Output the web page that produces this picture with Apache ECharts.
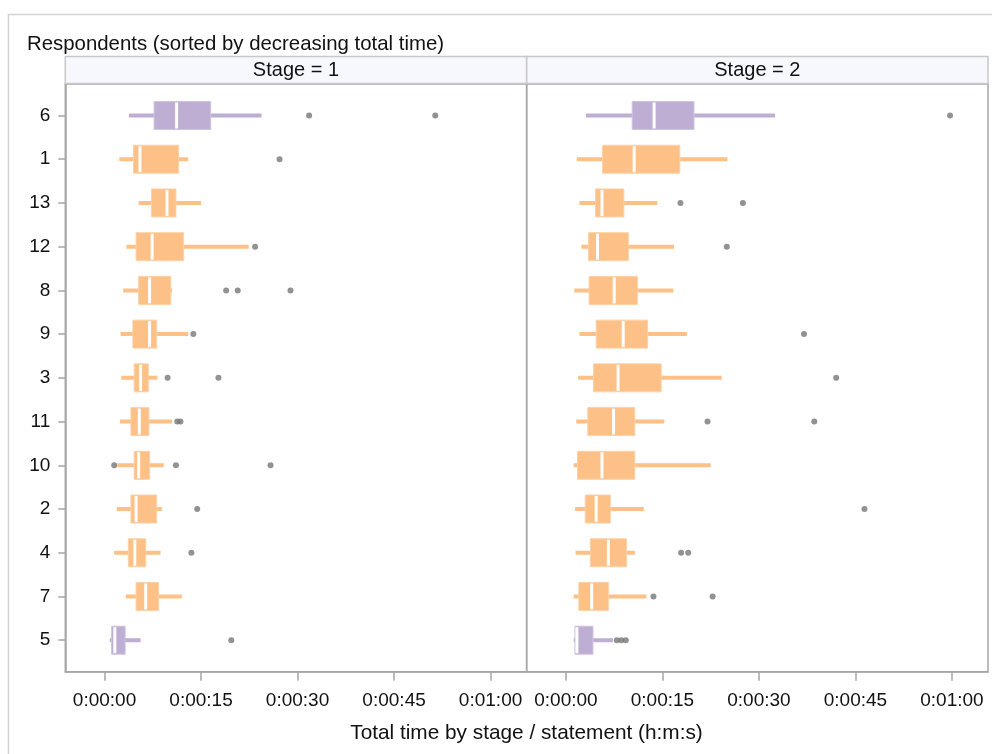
<!DOCTYPE html>
<html>
<head>
<meta charset="utf-8">
<script src="https://cdn.jsdelivr.net/npm/echarts@6/dist/echarts.min.js"></script>
<style>
  html, body { margin: 0; padding: 0; background: #fff; }
  #chart { width: 992px; height: 754px; }
</style>
</head>
<body>
<div id="chart"></div>
<script>
// ---------------- DATA ----------------
const respondents = ['6', '1', '13', '12', '8', '9', '3', '11', '10', '2', '4', '7', '5'];
const respondentGroup = ['extreme', 'middle', 'middle', 'middle', 'middle', 'middle', 'middle',
                         'middle', 'middle', 'middle', 'middle', 'middle', 'extreme'];
const stages = ['Stage = 1', 'Stage = 2'];

// seconds
const stage1Min    = [3.8, 2.3, 5.3, 3.4, 2.9, 2.5, 2.6, 2.4, 2.0, 1.9, 1.5, 3.3, 0.8];
const stage1Q1     = [7.7, 4.5, 7.3, 4.9, 5.3, 4.4, 4.6, 4.1, 4.6, 4.1, 3.7, 4.9, 1.1];
const stage1Median = [11.2, 5.5, 9.7, 7.4, 7.0, 7.0, 5.6, 5.4, 5.3, 4.9, 4.7, 6.4, 1.6];
const stage1Q3     = [16.5, 11.5, 11.1, 12.3, 10.3, 8.1, 6.8, 6.9, 7.0, 8.1, 6.4, 8.4, 3.2];
const stage1Max    = [24.4, 13.0, 15.0, 22.4, 10.5, 13.0, 8.2, 10.5, 9.2, 8.9, 8.7, 12.0, 5.6];
const stage1Outliers = [
  ['6', 31.8], ['6', 51.4], ['1', 27.2], ['12', 23.4], ['8', 18.9], ['8', 20.7], ['8', 28.9],
  ['9', 13.8], ['3', 9.8], ['3', 17.7], ['11', 11.3], ['11', 11.8], ['10', 1.5], ['10', 11.1],
  ['10', 25.8], ['2', 14.4], ['4', 13.5], ['5', 19.7]
];

const stage2Min    = [3.1, 1.7, 2.1, 2.4, 1.3, 2.1, 1.9, 1.6, 1.2, 1.4, 1.5, 1.2, 1.2];
const stage2Q1     = [10.3, 5.7, 4.6, 3.5, 3.6, 4.7, 4.3, 3.4, 1.8, 3.0, 3.8, 2.0, 1.4];
const stage2Median = [13.7, 10.6, 5.6, 4.9, 7.5, 8.9, 8.1, 7.4, 5.6, 4.7, 6.6, 4.0, 1.7];
const stage2Q3     = [19.9, 17.7, 9.0, 9.7, 11.1, 12.7, 14.8, 10.7, 10.7, 6.9, 9.4, 6.6, 4.2];
const stage2Max    = [32.5, 25.1, 14.2, 16.8, 16.7, 18.8, 24.2, 15.3, 22.5, 12.1, 10.7, 12.5, 7.3];
const stage2Outliers = [
  ['6', 59.7], ['13', 17.8], ['13', 27.5], ['12', 25.0], ['9', 37.0], ['3', 42.0], ['11', 22.0],
  ['11', 38.6], ['2', 46.4], ['4', 17.9], ['4', 19.0], ['7', 13.6], ['7', 22.8],
  ['5', 7.9], ['5', 8.6], ['5', 9.3]
];

const xTickValues = [0, 15, 30, 45, 60];

// ---------------- STYLE ----------------
const FONT = '"Liberation Sans", Arial, sans-serif';
const groupColor = { extreme: '#beaed4', middle: '#fdc086' };
const groupBorder = { extreme: '#cfc3e1', middle: '#fdd1a6' };

function fmtTime(s) {
  const h = Math.floor(s / 3600), m = Math.floor((s % 3600) / 60), sec = Math.round(s % 60);
  return h + ':' + String(m).padStart(2, '0') + ':' + String(sec).padStart(2, '0');
}

function boxData(mins, q1s, meds, q3s, maxs) {
  return respondents.map((r, i) => [i, mins[i], q1s[i], meds[i], q3s[i], maxs[i]]);
}
function outlierData(list) {
  return list.map(o => [o[1], respondents.indexOf(o[0])]);
}

function renderBox(params, api) {
  const idx = api.value(0);
  const grp = respondentGroup[idx];
  const pMin = api.coord([api.value(1), idx]);
  const pQ1 = api.coord([api.value(2), idx]);
  const pMed = api.coord([api.value(3), idx]);
  const pQ3 = api.coord([api.value(4), idx]);
  const pMax = api.coord([api.value(5), idx]);
  const band = api.size([0, 1])[1];
  const boxH = band * 0.64;
  const cy = pMed[1];
  return {
    type: 'group',
    children: [
      { type: 'rect', shape: { x: pMin[0], y: cy - 2, width: pMax[0] - pMin[0], height: 4 },
        style: { fill: groupColor[grp] } },
      { type: 'rect', shape: { x: pQ1[0], y: cy - boxH / 2, width: pQ3[0] - pQ1[0], height: boxH },
        style: { fill: groupColor[grp], stroke: groupBorder[grp], lineWidth: 1 } },
      { type: 'rect', shape: { x: pMed[0] - 1.5, y: cy - boxH / 2 + 1, width: 3, height: boxH - 2 },
        style: { fill: '#ffffff' } }
    ]
  };
}

const panelLeft = [65.3, 526.7];
const panelWidth = 461.3;
const panelTop = 84;
const panelHeight = 587.7;

const grids = panelLeft.map(l => ({
  left: l, top: panelTop, width: panelWidth, height: panelHeight,
  show: true, borderColor: '#a6a6a6', borderWidth: 1.5, backgroundColor: 'transparent'
}));

const xAxes = [0, 1].map(g => ({
  type: 'value', gridIndex: g, min: -6.1, max: 65.6,
  axisLine: { show: true, onZero: false, lineStyle: { color: '#a6a6a6', width: 1.5 } },
  axisTick: { show: true, length: 9, customValues: xTickValues, lineStyle: { color: '#a6a6a6', width: 1.5 } },
  axisLabel: { customValues: xTickValues, formatter: v => fmtTime(v), margin: 20,
               fontFamily: FONT, fontSize: 19, color: '#111' },
  splitLine: { show: false }
}));

const yIdx = respondents.map((r, i) => i);
const yAxes = [0, 1].map(g => ({
  type: 'value', gridIndex: g, min: -0.72, max: 12.72, inverse: true,
  axisLine: { show: g === 0, onZero: false, lineStyle: { color: '#a6a6a6', width: 1.5 } },
  axisTick: { show: g === 0, length: 7, customValues: yIdx, lineStyle: { color: '#a6a6a6', width: 1.5 } },
  axisLabel: { show: g === 0, customValues: yIdx, formatter: v => respondents[Math.round(v)],
               margin: 15, fontFamily: FONT, fontSize: 19, color: '#111' },
  splitLine: { show: false }
}));

const boxSets = [
  boxData(stage1Min, stage1Q1, stage1Median, stage1Q3, stage1Max),
  boxData(stage2Min, stage2Q1, stage2Median, stage2Q3, stage2Max)
];
const outSets = [outlierData(stage1Outliers), outlierData(stage2Outliers)];

const series = [];
[0, 1].forEach(g => {
  series.push({
    type: 'custom', xAxisIndex: g, yAxisIndex: g, renderItem: renderBox,
    encode: { x: [1, 2, 3, 4, 5], y: 0 }, data: boxSets[g], silent: true
  });
  series.push({
    type: 'scatter', xAxisIndex: g, yAxisIndex: g, symbol: 'circle', symbolSize: 6,
    itemStyle: { color: '#777777' }, data: outSets[g], silent: true, z: 3
  });
});

const graphic = [
  { type: 'rect', shape: { x: 8.5, y: 14.5, width: 1200, height: 1200 },
    style: { fill: 'none', stroke: '#d4d4d4', lineWidth: 1.5 }, z: -10 },
  { type: 'text', left: 27, top: 34,
    style: { text: 'Respondents (sorted by decreasing total time)', font: '20.4px ' + FONT, fill: '#111' } },
  { type: 'text', x: 526.5, y: 733,
    style: { text: 'Total time by stage / statement (h:m:s)', font: '20.8px ' + FONT, fill: '#111',
             align: 'center', verticalAlign: 'middle' } }
];
stages.forEach((s, g) => {
  graphic.push({ type: 'rect', shape: { x: panelLeft[g], y: 56.5, width: panelWidth, height: 27 },
    style: { fill: '#f7f8fd', stroke: '#c8c8c8', lineWidth: 1.5 }, z: 1 });
  graphic.push({ type: 'text', x: panelLeft[g] + panelWidth / 2, y: 70.5,
    style: { text: s, font: '20px ' + FONT, fill: '#111', align: 'center', verticalAlign: 'middle' }, z: 2 });
});

const chart = echarts.init(document.getElementById('chart'), null, { renderer: 'canvas' });
chart.setOption({
  animation: false,
  backgroundColor: '#ffffff',
  grid: grids,
  xAxis: xAxes,
  yAxis: yAxes,
  series: series,
  graphic: graphic
});
</script>
</body>
</html>
